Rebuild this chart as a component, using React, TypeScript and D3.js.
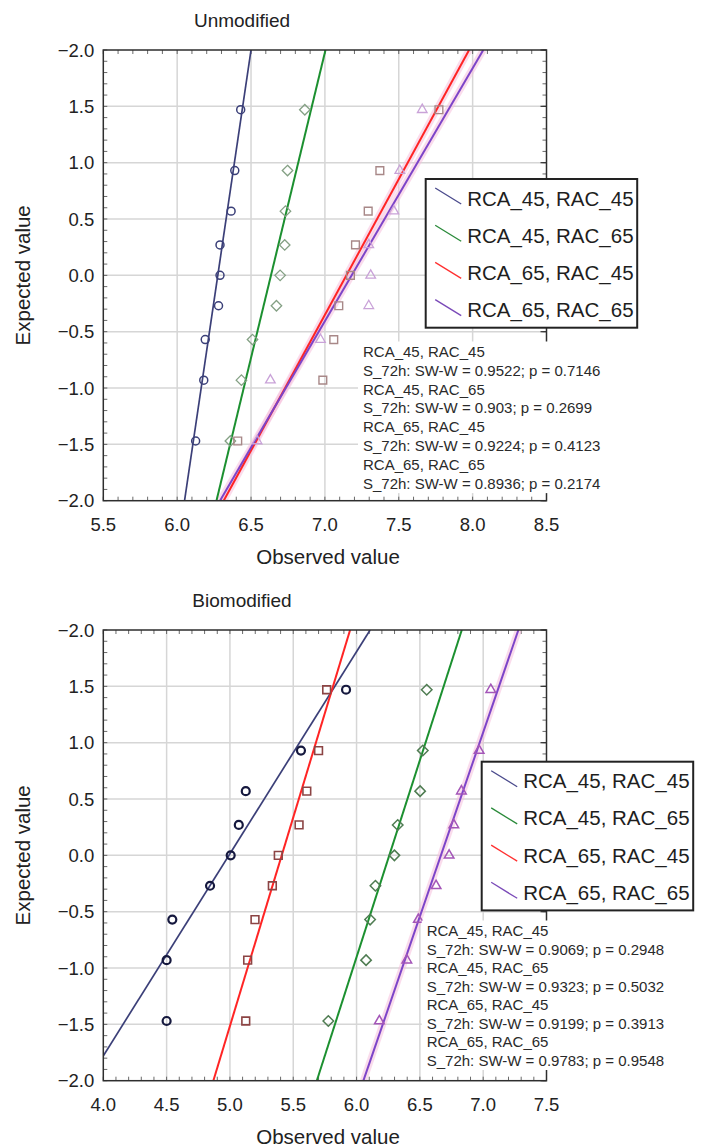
import React from "react";
import * as d3 from "d3";

// legend / series names
const seriesNames = ["RCA_45, RAC_45", "RCA_45, RAC_65", "RCA_65, RAC_45", "RCA_65, RAC_65"];

// expected normal values (same for every series, n = 9)
const expected = [-1.47, -0.93, -0.57, -0.27, 0, 0.27, 0.57, 0.93, 1.47];

// y tick values and the labels as printed in the original (top one reads -2.0)
const yTicks = [-2, -1.5, -1, -0.5, 0, 0.5, 1, 1.5, 2];
const yTickLabels = ["−2.0", "−1.5", "−1.0", "−0.5", "0.0", "0.5", "1.0", "1.5", "−2.0"];

// ---- Unmodified ----
const unmodXTicks = [5.5, 6.0, 6.5, 7.0, 7.5, 8.0, 8.5];
const unmod_45_45 = [6.125, 6.18, 6.19, 6.28, 6.29, 6.29, 6.365, 6.39, 6.43];
const unmod_45_65 = [6.36, 6.435, 6.51, 6.672, 6.697, 6.728, 6.733, 6.747, 6.864];
const unmod_65_45 = [6.41, 6.986, 7.06, 7.094, 7.173, 7.207, 7.293, 7.372, 7.772];
const unmod_65_65 = [6.541, 6.631, 6.97, 7.297, 7.31, 7.297, 7.467, 7.507, 7.659];
// fitted lines: observed value at expected = -2 and at expected = +2
const unmodLineLow = [6.05, 6.266, 6.315, 6.29];
const unmodLineHigh = [6.5, 7.004, 7.976, 8.072];
const unmodStats = [
  "RCA_45, RAC_45",
  "S_72h: SW-W = 0.9522; p = 0.7146",
  "RCA_45, RAC_65",
  "S_72h: SW-W = 0.903; p = 0.2699",
  "RCA_65, RAC_45",
  "S_72h: SW-W = 0.9224; p = 0.4123",
  "RCA_65, RAC_65",
  "S_72h: SW-W = 0.8936; p = 0.2174",
];

// ---- Biomodified ----
const biomodXTicks = [4.0, 4.5, 5.0, 5.5, 6.0, 6.5, 7.0, 7.5];
const biomod_45_45 = [4.5, 4.5, 4.545, 4.843, 5.006, 5.07, 5.125, 5.561, 5.917];
const biomod_45_65 = [5.777, 6.075, 6.107, 6.149, 6.299, 6.325, 6.502, 6.523, 6.554];
const biomod_65_45 = [5.125, 5.14, 5.198, 5.335, 5.382, 5.546, 5.607, 5.7, 5.764];
const biomod_65_65 = [6.18, 6.397, 6.488, 6.628, 6.731, 6.768, 6.828, 6.968, 7.06];
const biomodLineLow = [3.877, 5.686, 4.869, 6.054];
const biomodLineHigh = [6.107, 6.831, 5.949, 7.278];
const biomodStats = [
  "RCA_45, RAC_45",
  "S_72h: SW-W = 0.9069; p = 0.2948",
  "RCA_45, RAC_65",
  "S_72h: SW-W = 0.9323; p = 0.5032",
  "RCA_65, RAC_45",
  "S_72h: SW-W = 0.9199; p = 0.3913",
  "RCA_65, RAC_65",
  "S_72h: SW-W = 0.9783; p = 0.9548",
];

const lineColors = ["#3b3f78", "#1c9030", "#ff2424", "#7d44c8"];
const legendColors = ["#4a4a8c", "#2a8a3a", "#ff3030", "#7a4ab8"];
const symbolTypes = [d3.symbolCircle, d3.symbolDiamond2, d3.symbolSquare, d3.symbolTriangle];
const symbolSizes = [50, 70, 60, 40];

const FONT = "'Liberation Sans', Arial, sans-serif";

const Panel = ({ id, top, xDomain, xTicks, values, lineLow, lineHigh, halo, stats, markerColors, markerWidths, title, legend, statsPos }) => {
  const left = 103.3;
  const right = 546.5;
  const bottom = top + 450.7;

  const x = d3.scaleLinear().domain(xDomain).range([left, right]);
  const y = d3.scaleLinear().domain([-2, 2]).range([bottom, top]);

  const minorX = d3.range(Math.round(xDomain[0] * 10), Math.round(xDomain[1] * 10) + 1).map((d) => d / 10);
  const minorY = d3.range(-20, 21).map((d) => d / 10);

  const line = d3
    .line()
    .x((d) => x(d[0]))
    .y((d) => y(d[1]));

  return (
    <g>
      <defs>
        <clipPath id={"clip" + id}>
          <rect x={left} y={top} width={right - left} height={bottom - top} />
        </clipPath>
      </defs>
      <text x={242} y={top - 30} textAnchor="middle" dominantBaseline="central" fontSize={19} fill="#222">
        {title}
      </text>

      {/* grid */}
      {xTicks.slice(1, -1).map((t) => (
        <line key={"gx" + t} x1={x(t)} x2={x(t)} y1={top} y2={bottom} stroke="#d6d6d6" strokeWidth={1.5} />
      ))}
      {yTicks.slice(1, -1).map((t) => (
        <line key={"gy" + t} x1={left} x2={right} y1={y(t)} y2={y(t)} stroke="#d6d6d6" strokeWidth={1.5} />
      ))}

      {/* minor ticks */}
      {minorX.map((t) => (
        <g key={"mx" + t}>
          <line x1={x(t)} x2={x(t)} y1={bottom} y2={bottom - 4} stroke="#444" strokeWidth={0.8} />
          <line x1={x(t)} x2={x(t)} y1={top} y2={top + 4} stroke="#444" strokeWidth={0.8} />
        </g>
      ))}
      {minorY.map((t) => (
        <g key={"my" + t}>
          <line x1={left} x2={left + 4} y1={y(t)} y2={y(t)} stroke="#444" strokeWidth={0.8} />
          <line x1={right} x2={right - 4} y1={y(t)} y2={y(t)} stroke="#444" strokeWidth={0.8} />
        </g>
      ))}
      {yTicks.map((t) => (
        <line key={"My" + t} x1={right - 6} x2={right} y1={y(t)} y2={y(t)} stroke="#333" strokeWidth={1.2} />
      ))}

      {/* fitted lines */}
      <g clipPath={`url(#clip${id})`}>
        {lineLow.map((lo, i) =>
          halo[i] ? (
            <path key={"halo" + i} d={line([[lo, -2], [lineHigh[i], 2]])} stroke="#f5c0dc" strokeWidth={7} opacity={0.55} fill="none" />
          ) : null
        )}
        {lineLow.map((lo, i) => (
          <path key={"fit" + i} d={line([[lo, -2], [lineHigh[i], 2]])} stroke={lineColors[i]} strokeWidth={i === 0 ? 1.7 : 2} fill="none" />
        ))}
      </g>

      {/* points */}
      {values.map((vals, i) =>
        vals.map((v, j) => (
          <path
            key={"p" + i + "-" + j}
            d={d3.symbol(symbolTypes[i], symbolSizes[i])()}
            transform={`translate(${x(v)},${y(expected[j])})`}
            fill="none"
            stroke={markerColors[i]}
            strokeWidth={markerWidths[i]}
          />
        ))
      )}

      {/* frame */}
      <rect x={left} y={top} width={right - left} height={bottom - top} fill="none" stroke="#2e2e2e" strokeWidth={1.5} />

      {/* tick labels */}
      {yTicks.map((t, i) => (
        <text key={"yl" + t} x={left - 9} y={y(t)} textAnchor="end" dominantBaseline="central" fontSize={18.5} fill="#222">
          {yTickLabels[i]}
        </text>
      ))}
      {xTicks.map((t) => (
        <text key={"xl" + t} x={x(t)} y={bottom + 24} textAnchor="middle" dominantBaseline="central" fontSize={18.5} fill="#222">
          {d3.format(".1f")(t)}
        </text>
      ))}
      <text x={328} y={bottom + 56} textAnchor="middle" dominantBaseline="central" fontSize={20.5} fill="#222">
        Observed value
      </text>
      <text
        transform={`translate(22,${(top + bottom) / 2}) rotate(-90)`}
        textAnchor="middle"
        dominantBaseline="central"
        fontSize={20.5}
        fill="#222"
      >
        Expected value
      </text>

      {/* stats */}
      <rect x={statsPos.x - 5} y={statsPos.y - 10} width={702 - statsPos.x} height={statsPos.dy * 7 + 20} fill="#fff" />
      {stats.map((s, i) => (
        <text key={"st" + i} x={statsPos.x} y={statsPos.y + i * statsPos.dy} dominantBaseline="central" fontSize={15} fill="#2a2a2a">
          {s}
        </text>
      ))}

      {/* legend */}
      <rect x={legend.x} y={legend.y} width={211.5} height={148.7} fill="#fff" stroke="#222" strokeWidth={2} />
      {seriesNames.map((n, i) => {
        const cy = legend.y + 19 + i * 37.2;
        return (
          <g key={"lg" + i}>
            <line x1={legend.x + 9.5} x2={legend.x + 35.5} y1={cy - 10} y2={cy + 6} stroke={legendColors[i]} strokeWidth={1.3} />
            <text x={legend.x + 41.5} y={cy} dominantBaseline="central" fontSize={20.5} fill="#1e1e1e">
              {n}
            </text>
          </g>
        );
      })}
    </g>
  );
};

const App = () => {
  return (
    <svg
      width={702}
      height={1147}
      style={{ position: "absolute", left: 0, top: 0, background: "#fff" }}
      fontFamily={FONT}
    >
      <rect width={702} height={1147} fill="#fff" />
      <Panel
        id="u"
        top={50}
        title="Unmodified"
        xDomain={[5.5, 8.5]}
        xTicks={unmodXTicks}
        values={[unmod_45_45, unmod_45_65, unmod_65_45, unmod_65_65]}
        lineLow={unmodLineLow}
        lineHigh={unmodLineHigh}
        halo={[false, false, true, true]}
        stats={unmodStats}
        markerColors={["#3a3f78", "#84a084", "#a88888", "#c9a2d8"]}
        markerWidths={[1.5, 1.3, 1.4, 1.3]}
        legend={{ x: 425.7, y: 179 }}
        statsPos={{ x: 363, y: 351.5, dy: 18.8 }}
      />
      <Panel
        id="b"
        top={630}
        title="Biomodified"
        xDomain={[4.0, 7.5]}
        xTicks={biomodXTicks}
        values={[biomod_45_45, biomod_45_65, biomod_65_45, biomod_65_65]}
        lineLow={biomodLineLow}
        lineHigh={biomodLineHigh}
        halo={[false, false, false, true]}
        stats={biomodStats}
        markerColors={["#15183e", "#4f7c52", "#8c4444", "#a456b8"]}
        markerWidths={[2.2, 1.5, 1.6, 1.5]}
        legend={{ x: 481.7, y: 761.7 }}
        statsPos={{ x: 426.7, y: 930.5, dy: 18.5 }}
      />
    </svg>
  );
};

export default App;
